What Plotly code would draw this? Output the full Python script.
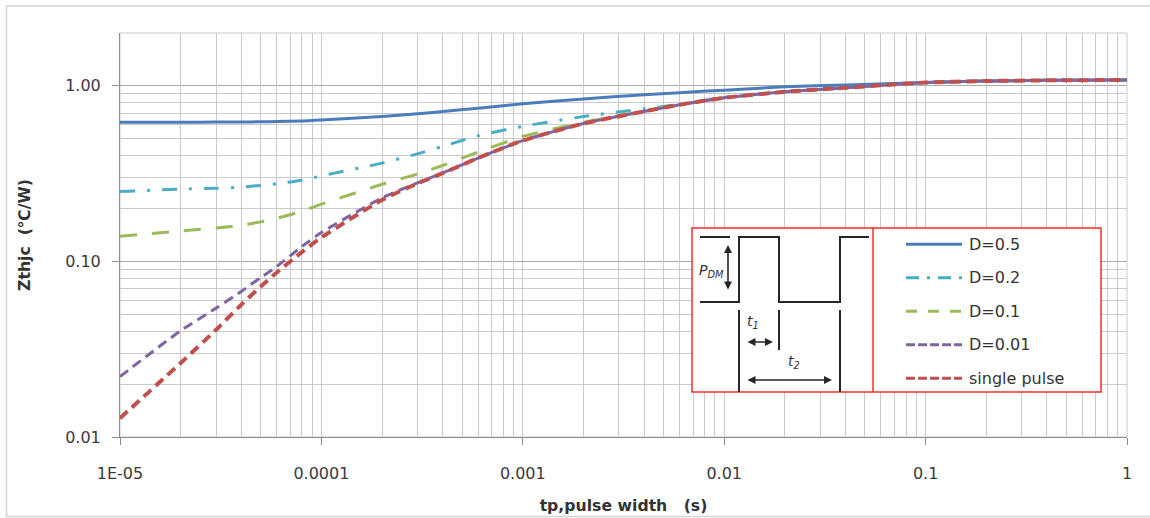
import math
import plotly.graph_objects as go

# Pulse width (s) sample points
tp = [1e-5, 2e-5, 3e-5, 4e-5, 5e-5, 6e-5, 8e-5, 1e-4, 2e-4, 3e-4, 4e-4, 6e-4,
      1e-3, 2e-3, 4e-3, 6e-3, 1e-2, 2e-2, 4e-2, 1e-1, 2e-1, 4e-1, 1.0]

# Transient thermal impedance Zthjc (°C/W) per duty cycle
z_d05 = [0.621, 0.621, 0.622, 0.623, 0.624, 0.626, 0.630, 0.638, 0.669, 0.693, 0.714, 0.746,
         0.790, 0.843, 0.889, 0.915, 0.945, 0.988, 1.010, 1.045, 1.065, 1.075, 1.080]
z_d02 = [0.250, 0.258, 0.261, 0.265, 0.271, 0.277, 0.290, 0.307, 0.363, 0.410, 0.452, 0.520,
         0.588, 0.669, 0.740, 0.785, 0.860, 0.925, 0.975, 1.045, 1.065, 1.075, 1.080]
z_d01 = [0.139, 0.149, 0.155, 0.161, 0.168, 0.176, 0.193, 0.212, 0.275, 0.315, 0.352, 0.420,
         0.515, 0.620, 0.720, 0.782, 0.855, 0.925, 0.975, 1.045, 1.065, 1.075, 1.080]
z_d001 = [0.0221, 0.0403, 0.0542, 0.0675, 0.0810, 0.0935, 0.1216, 0.146, 0.230, 0.280, 0.319, 0.388,
          0.488, 0.610, 0.715, 0.780, 0.855, 0.925, 0.975, 1.045, 1.065, 1.075, 1.080]
z_single = [0.0128, 0.0264, 0.0408, 0.0567, 0.0720, 0.0865, 0.1130, 0.137, 0.224, 0.278, 0.318, 0.388,
            0.488, 0.610, 0.715, 0.780, 0.855, 0.925, 0.975, 1.045, 1.065, 1.075, 1.080]

series_names = ["D=0.5", "D=0.2", "D=0.1", "D=0.01", "single pulse"]
series_values = [z_d05, z_d02, z_d01, z_d001, z_single]

x_tickvals = [1e-5, 1e-4, 1e-3, 1e-2, 1e-1, 1]
x_ticktext = ["1E-05", "0.0001", "0.001", "0.01", "0.1", "1"]
y_tickvals = [0.01, 0.1, 1]
y_ticktext = ["0.01", "0.10", "1.00"]

# line styles: plot dash and legend-sample dash
styles = [
    dict(color="#4a7ebb", dash="solid", ldash="solid", width=3),
    dict(color="#4bacc6", dash="15px,12px,3px,12px", ldash="13px,8px,3px,8px", width=3),
    dict(color="#9bbb59", dash="17px,15px", ldash="11px,11px", width=3),
    dict(color="#8064a2", dash="10px,6px", ldash="9px,3px", width=3),
    dict(color="#c0504d", dash="10px,6px", ldash="9px,3px", width=4),
]

W, H = 1150, 518
ML, MR, MT, MB = 120, 23, 33, 81
PW, PH = W - ML - MR, H - MT - MB


def px(x):
    return (x - ML) / PW


def py(y):
    return (H - MB - y) / PH


fig = go.Figure()
# empty trace that anchors the overlay axes carrying the minor grid
fig.add_trace(go.Scatter(x=[None], y=[None], xaxis="x2", yaxis="y2",
                         showlegend=False, hoverinfo="skip"))
for name, vals, st in zip(series_names, series_values, styles):
    fig.add_trace(go.Scatter(
        x=tp, y=vals, name=name, mode="lines", showlegend=False,
        line=dict(color=st["color"], dash=st["dash"], width=st["width"],
                  shape="spline", smoothing=0.6),
    ))

grid_minor = "#c9c9c9"
axis_col = "#8c8c8c"
tick_font = dict(family="DejaVu Sans", size=16, color="#3a3a3a")
title_font = dict(family="DejaVu Sans", size=15.7, color="#333333", weight="bold")

x_minor = [k * 10.0 ** e for e in range(-5, 0) for k in range(2, 10)]
y_minor = [k * 10.0 ** e for e in range(-2, 0) for k in range(2, 10)] + [2.0]
x_range = [-5, 0]
y_range = [-2, math.log10(2)]

shapes = []
# outer chart frame
shapes.append(dict(type="rect", xref="paper", yref="paper",
                   x0=px(6.5), x1=px(1300), y0=py(516.5), y1=py(6),
                   line=dict(color="#d4d4d4", width=1.5), layer="below"))
# plot area edges (top and right)
shapes.append(dict(type="rect", xref="paper", yref="paper", x0=0, x1=1, y0=0, y1=1,
                   line=dict(color=grid_minor, width=1), layer="below"))

# inset box with pulse diagram and legend
red = "#ff2a2a"
shapes.append(dict(type="rect", xref="paper", yref="paper",
                   x0=px(692), x1=px(1101), y0=py(392), y1=py(228),
                   fillcolor="white", line=dict(color=red, width=1.5), layer="above"))
shapes.append(dict(type="line", xref="paper", yref="paper",
                   x0=px(873), x1=px(873), y0=py(392), y1=py(228),
                   line=dict(color=red, width=1.5), layer="above"))

ink = "#262626"
wave = [(700, 302), (739, 302), (739, 237), (779, 237), (779, 302), (840, 302), (840, 237), (869, 237)]
path = "M" + " L".join(f"{px(a):.5f},{py(b):.5f}" for a, b in wave)
shapes.append(dict(type="path", xref="paper", yref="paper", path=path,
                   line=dict(color=ink, width=2), layer="above"))
for (xa, ya, xb, yb) in [(700, 237, 730, 237), (739, 310, 739, 392),
                         (779, 310, 779, 350), (840, 310, 840, 392)]:
    shapes.append(dict(type="line", xref="paper", yref="paper",
                       x0=px(xa), x1=px(xb), y0=py(ya), y1=py(yb),
                       line=dict(color=ink, width=2), layer="above"))

annotations = []
# double-headed dimension arrows
for (xa, ya, xb, yb) in [(728, 291, 728, 245), (746, 342, 773, 342), (746, 380, 832, 380)]:
    annotations.append(dict(xref="paper", yref="paper", x=px(xb), y=py(yb),
                            ax=xa - xb, ay=ya - yb, axref="pixel", ayref="pixel",
                            text="", showarrow=True, arrowhead=2, arrowsize=1,
                            arrowwidth=1.6, arrowcolor=ink, arrowside="end+start",
                            standoff=0, startstandoff=0))
for (xc, yc, txt) in [(711, 271, "<i>P<sub>DM</sub></i>"), (753, 322, "<i>t<sub>1</sub></i>"),
                      (794, 362, "<i>t<sub>2</sub></i>")]:
    annotations.append(dict(xref="paper", yref="paper", x=px(xc), y=py(yc),
                            text=txt, showarrow=False, xanchor="center", yanchor="middle",
                            font=dict(family="DejaVu Sans", size=14, color="#333")))

# legend rows
for i, (name, st) in enumerate(zip(series_names, styles)):
    yrow = 244.3 + i * 33.5
    shapes.append(dict(type="line", xref="paper", yref="paper",
                       x0=px(906), x1=px(962), y0=py(yrow), y1=py(yrow),
                       line=dict(color=st["color"], width=3, dash=st["ldash"]),
                       layer="above"))
    annotations.append(dict(xref="paper", yref="paper", x=px(967), y=py(yrow),
                            text=name, showarrow=False, xanchor="left", yanchor="middle",
                            font=dict(family="DejaVu Sans", size=16, color="#333")))

fig.update_layout(
    width=W, height=H,
    margin=dict(l=ML, r=MR, t=MT, b=MB, pad=0, autoexpand=False),
    paper_bgcolor="white", plot_bgcolor="white",
    shapes=shapes, annotations=annotations,
    xaxis=dict(
        type="log", range=x_range, tickmode="array", tickvals=x_tickvals, ticktext=x_ticktext,
        ticks="outside", ticklen=7, tickcolor=axis_col, tickwidth=1,
        showline=True, linecolor=axis_col, linewidth=1,
        showgrid=True, gridcolor=grid_minor, gridwidth=1, zeroline=False,
        tickfont=tick_font, ticklabelstandoff=15, automargin=False,
        title=dict(text="tp,pulse width   (s)", font=title_font, standoff=17),
    ),
    yaxis=dict(
        type="log", range=y_range, tickmode="array", tickvals=y_tickvals,
        ticktext=y_ticktext,
        ticks="outside", ticklen=7, tickcolor=axis_col, tickwidth=1,
        showline=True, linecolor=axis_col, linewidth=1,
        showgrid=True, gridcolor="#a9a9a9", gridwidth=1, zeroline=False,
        tickfont=tick_font, ticklabelstandoff=8, automargin=False,
        title=dict(text="Zthjc  (℃/W)", font=title_font, standoff=30),
    ),
    # overlay axes that only draw the minor grid
    xaxis2=dict(
        type="log", range=x_range, overlaying="x", side="bottom", anchor="y2",
        tickmode="array", tickvals=x_minor, showticklabels=False, ticks="",
        showgrid=True, gridcolor=grid_minor, gridwidth=1, zeroline=False, showline=False,
        automargin=False,
    ),
    yaxis2=dict(
        type="log", range=y_range, overlaying="y", side="left", anchor="x2",
        tickmode="array", tickvals=y_minor, showticklabels=False, ticks="",
        showgrid=True, gridcolor=grid_minor, gridwidth=1, zeroline=False, showline=False,
        automargin=False,
    ),
)

fig.write_html("out.html")
